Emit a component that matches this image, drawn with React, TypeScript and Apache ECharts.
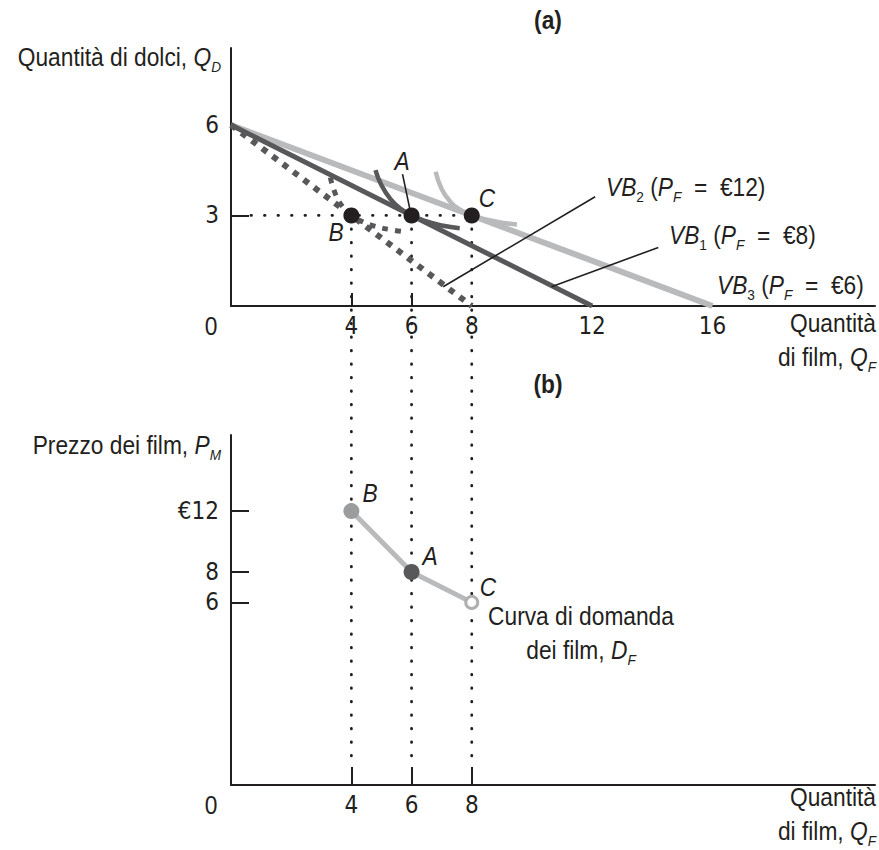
import React, { useEffect, useRef } from 'react';
import * as echarts from 'echarts';

// ---- data ----
const budgetVB3 = [[0, 6], [16, 0]];
const budgetVB1 = [[0, 6], [12, 0]];
const budgetVB2 = [[0, 6], [8, 0]];
const curveA = [[4.8, 4.5], [5.0, 4.0], [5.3, 3.54], [5.6, 3.25], [6.0, 3.0], [6.5, 2.8], [7.0, 2.67], [7.6, 2.58]];
const curveB = [[3.3, 4.26], [3.5, 3.64], [3.75, 3.24], [4.0, 3.0], [4.4, 2.78], [4.8, 2.64], [5.3, 2.53], [5.8, 2.46]];
const curveC = [[6.8, 4.45], [7.0, 3.88], [7.3, 3.44], [7.6, 3.2], [8.0, 3.0], [8.5, 2.86], [9.0, 2.76], [9.5, 2.7]];
const pointNames = ['B', 'A', 'C'];
const choiceQF = [4, 6, 8];
const choiceQD = [3, 3, 3];
const demandPF = [12, 8, 6];
const topXLabels = [4, 6, 8, 12, 16];
const topXTicks = [4, 6];
const topYLabels = [6, 3];
const topYTicks = [3];
const botXLabels = [4, 6, 8];
const botYLabels = [12, 8, 6];
const leaderVB2 = [[7.05, 0.64], [12.1, 3.62]];
const leaderVB1 = [[10.65, 0.64], [14.2, 1.94]];
const leaderA = [[5.7, 4.37], [5.95, 3.18]];

const INK = '#231f20';
const DARK = '#58585a';
const LIGHT = '#b9babc';
const FONT = "'Liberation Sans',Arial,sans-serif";
const AXFONT = "'DejaVu Sans Condensed','Liberation Sans',sans-serif";
const SX = 0.91;

const rich: any = {
  n: { fontSize: 25, fontFamily: FONT, fill: INK, color: INK, lineHeight: 34 },
  i: { fontSize: 25, fontFamily: FONT, fontStyle: 'italic', fill: INK, color: INK, lineHeight: 34 },
  s: { fontSize: 15, fontFamily: FONT, fill: INK, color: INK, lineHeight: 14, verticalAlign: 'bottom' },
  si: { fontSize: 15, fontFamily: FONT, fontStyle: 'italic', fill: INK, color: INK, lineHeight: 14, verticalAlign: 'bottom' },
};

function txt(text: string, x: number, y: number, align = 'left', vAlign = 'middle', extra: any = {}) {
  return {
    type: 'text', x, y, z: 50, scaleX: SX,
    style: { text, rich, align, verticalAlign: vAlign, fill: INK, fontSize: 25, fontFamily: FONT, ...extra },
  };
}

export default function App() {
  const ref = useRef<HTMLDivElement>(null);
  useEffect(() => {
    const chart = echarts.init(ref.current!, null, { renderer: 'svg' });
    const axisLine = { show: true, onZero: false, lineStyle: { color: INK, width: 2 } };
    const labelStyle = { color: INK, fontSize: 24, fontFamily: AXFONT };
    const option: any = {
      animation: false,
      backgroundColor: '#ffffff',
      grid: [
        { left: 231, top: 48, width: 644, height: 258 },
        { left: 231, top: 435, width: 644, height: 350 },
      ],
      xAxis: [
        {
          gridIndex: 0, type: 'value', min: 0, max: 21.4, axisLine, splitLine: { show: false },
          axisTick: { show: true, inside: true, length: 13, customValues: topXTicks, lineStyle: { color: INK, width: 2 } },
          axisLabel: { ...labelStyle, margin: 8, customValues: topXLabels },
        },
        {
          gridIndex: 1, type: 'value', min: 0, max: 21.4, axisLine, splitLine: { show: false },
          axisTick: { show: true, inside: true, length: 18, customValues: botXLabels, lineStyle: { color: INK, width: 2 } },
          axisLabel: { ...labelStyle, margin: 8, customValues: botXLabels },
        },
      ],
      yAxis: [
        {
          gridIndex: 0, type: 'value', min: 0, max: 8.55, axisLine, splitLine: { show: false },
          axisTick: { show: true, inside: true, length: 18, customValues: topYTicks, lineStyle: { color: INK, width: 2 } },
          axisLabel: { ...labelStyle, margin: 12, customValues: topYLabels },
        },
        {
          gridIndex: 1, type: 'value', min: -6, max: 17, axisLine, splitLine: { show: false },
          axisTick: { show: true, inside: true, length: 18, customValues: botYLabels, lineStyle: { color: INK, width: 2 } },
          axisLabel: { ...labelStyle, margin: 12, customValues: botYLabels, formatter: (v: number) => (v === 12 ? '€12' : String(v)) },
        },
      ],
      series: [
        { type: 'line', xAxisIndex: 0, yAxisIndex: 0, data: budgetVB3, symbol: 'none', lineStyle: { color: LIGHT, width: 6 }, z: 2 },
        { type: 'line', xAxisIndex: 0, yAxisIndex: 0, data: budgetVB1, symbol: 'none', lineStyle: { color: DARK, width: 5 }, z: 3 },
        { type: 'line', xAxisIndex: 0, yAxisIndex: 0, data: budgetVB2, symbol: 'none', lineStyle: { color: DARK, width: 6, type: [6, 7] }, z: 3 },
        { type: 'line', xAxisIndex: 0, yAxisIndex: 0, data: curveC, symbol: 'none', smooth: true, lineStyle: { color: LIGHT, width: 4.5 }, z: 3 },
        { type: 'line', xAxisIndex: 0, yAxisIndex: 0, data: curveB, symbol: 'none', smooth: true, lineStyle: { color: DARK, width: 5, type: [6, 7] }, z: 3 },
        { type: 'line', xAxisIndex: 0, yAxisIndex: 0, data: curveA, symbol: 'none', smooth: true, lineStyle: { color: DARK, width: 4.5 }, z: 4 },
        {
          type: 'scatter', xAxisIndex: 0, yAxisIndex: 0, symbolSize: 16, z: 6,
          itemStyle: { color: INK, opacity: 1 },
          data: choiceQF.map((x, k) => [x, choiceQD[k]]),
        },
        {
          type: 'line', xAxisIndex: 1, yAxisIndex: 1, symbol: 'none', z: 4,
          lineStyle: { color: LIGHT, width: 5 },
          data: choiceQF.map((x, k) => [x, demandPF[k]]),
        },
        {
          type: 'scatter', xAxisIndex: 1, yAxisIndex: 1, z: 6,
          data: choiceQF.map((x, k) => {
            const name = pointNames[k];
            if (name === 'B') return { value: [x, demandPF[k]], symbolSize: 16, itemStyle: { color: '#9b9c9e', opacity: 1 } };
            if (name === 'A') return { value: [x, demandPF[k]], symbolSize: 16, itemStyle: { color: DARK, opacity: 1 } };
            return { value: [x, demandPF[k]], symbolSize: 12, itemStyle: { color: '#ffffff', borderColor: '#aeafb1', borderWidth: 3, opacity: 1 } };
          }),
        },
      ],
    };
    chart.setOption(option);

    const p0 = (v: number[]) => chart.convertToPixel({ gridIndex: 0 }, v) as number[];
    const p1 = (v: number[]) => chart.convertToPixel({ gridIndex: 1 }, v) as number[];
    const dotStyle = { stroke: INK, lineWidth: 2.8, lineDash: [0.5, 13], lineCap: 'round' };
    const thin = { stroke: INK, lineWidth: 1.6 };
    const graphics: any[] = [];
    // dotted guides
    const xMaxChoice = Math.max(...choiceQF);
    const h0 = p0([0, choiceQD[0]]);
    const h1 = p0([xMaxChoice, choiceQD[0]]);
    graphics.push({ type: 'line', z: 1, shape: { x1: h0[0] + 20, y1: h0[1], x2: h1[0], y2: h1[1] }, style: dotStyle });
    choiceQF.forEach((x, k) => {
      const a = p0([x, choiceQD[k]]);
      const b = p1([x, -6]);
      graphics.push({ type: 'line', z: 1, shape: { x1: a[0], y1: a[1], x2: b[0], y2: b[1] - 18 }, style: dotStyle });
    });
    // leader lines
    [leaderVB2, leaderVB1, leaderA].forEach((seg) => {
      const a = p0(seg[0]);
      const b = p0(seg[1]);
      graphics.push({ type: 'line', z: 40, shape: { x1: a[0], y1: a[1], x2: b[0], y2: b[1] }, style: thin });
    });
    // titles
    graphics.push(txt('(a)', 548, 20, 'center', 'middle', { fontWeight: 'bold', fontSize: 25, rich: undefined }));
    graphics.push(txt('(b)', 548, 384, 'center', 'middle', { fontWeight: 'bold', fontSize: 25, rich: undefined }));
    // axis names
    graphics.push(txt('{n|Quantità di dolci, }{i|Q}{si|D}', 221, 57, 'right'));
    graphics.push(txt('{n|Prezzo dei film, }{i|P}{si|M}', 221, 445, 'right'));
    graphics.push(txt('{n|Quantità}\n{n|di film, }{i|Q}{si|F}', 876, 323 - 17, 'right', 'top'));
    graphics.push(txt('{n|Quantità}\n{n|di film, }{i|Q}{si|F}', 876, 797 - 17, 'right', 'top'));
    graphics.push(txt('{n|0}', 211, 326, 'center'));
    graphics.push(txt('{n|0}', 211, 805, 'center'));
    // budget line labels
    graphics.push(txt('{i|VB}{s|2}{n| (}{i|P}{si|F}{n|  =  €12)}', 606, 187, 'left'));
    graphics.push(txt('{i|VB}{s|1}{n| (}{i|P}{si|F}{n|  =  €8)}', 669, 235, 'left'));
    graphics.push(txt('{i|VB}{s|3}{n| (}{i|P}{si|F}{n|  =  €6)}', 717, 285, 'left'));
    // point labels (top)
    graphics.push(txt('{i|A}', 402, 161, 'center'));
    graphics.push(txt('{i|B}', 336, 232, 'center'));
    graphics.push(txt('{i|C}', 487, 198, 'center'));
    // point labels (bottom)
    graphics.push(txt('{i|B}', 370, 493, 'center'));
    graphics.push(txt('{i|A}', 430, 556, 'center'));
    graphics.push(txt('{i|C}', 488, 587, 'center'));
    graphics.push(txt('{n|Curva di domanda}\n{n|dei film, }{i|D}{si|F}', 581, 616 - 17, 'center', 'top'));
    chart.setOption({ graphic: graphics });
    return () => chart.dispose();
  }, []);
  return <div ref={ref} style={{ position: 'fixed', left: 0, top: 0, width: 879, height: 850 }} />;
}
